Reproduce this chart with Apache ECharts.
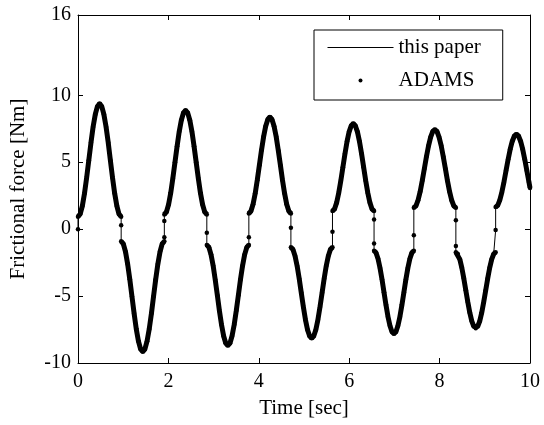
<!DOCTYPE html>
<html>
<head>
<meta charset="utf-8">
<script src="https://cdn.jsdelivr.net/npm/echarts@6/dist/echarts.min.js"></script>
<style>
html, body { margin: 0; background: #fff; }
#main { width: 544px; height: 425px; }
</style>
</head>
<body>
<div id="main"></div>
<script>
// readings, one line per half cycle (a jump repeats the time)
var time = [
    0,
    0, 0.048, 0.096, 0.143, 0.191, 0.239, 0.287, 0.334, 0.382, 0.430, 0.478, 0.525, 0.573, 0.621, 0.669, 0.716, 0.764, 0.812, 0.860, 0.907, 0.955,
    0.955,
    0.955, 1.003, 1.051, 1.098, 1.146, 1.194, 1.242, 1.289, 1.337, 1.385, 1.433, 1.480, 1.528, 1.576, 1.624, 1.671, 1.719, 1.767, 1.815, 1.862, 1.910,
    1.910, 1.910,
    1.910, 1.957, 2.004, 2.051, 2.098, 2.145, 2.192, 2.239, 2.286, 2.333, 2.380, 2.427, 2.474, 2.521, 2.568, 2.615, 2.662, 2.709, 2.756, 2.803, 2.850,
    2.850,
    2.850, 2.897, 2.943, 2.990, 3.036, 3.083, 3.129, 3.176, 3.222, 3.269, 3.315, 3.362, 3.408, 3.455, 3.501, 3.548, 3.594, 3.641, 3.687, 3.734, 3.780,
    3.780,
    3.780, 3.827, 3.873, 3.920, 3.966, 4.013, 4.059, 4.106, 4.152, 4.199, 4.245, 4.292, 4.338, 4.385, 4.431, 4.478, 4.524, 4.571, 4.617, 4.664, 4.710,
    4.710,
    4.710, 4.756, 4.802, 4.848, 4.894, 4.940, 4.986, 5.032, 5.078, 5.124, 5.170, 5.216, 5.262, 5.308, 5.354, 5.400, 5.446, 5.492, 5.538, 5.584, 5.630,
    5.630,
    5.630, 5.676, 5.722, 5.768, 5.814, 5.860, 5.906, 5.952, 5.998, 6.044, 6.090, 6.136, 6.182, 6.228, 6.274, 6.320, 6.366, 6.412, 6.458, 6.504, 6.550,
    6.550, 6.550,
    6.550, 6.594, 6.638, 6.682, 6.726, 6.770, 6.814, 6.858, 6.902, 6.946, 6.990, 7.034, 7.078, 7.122, 7.166, 7.210, 7.254, 7.298, 7.342, 7.386, 7.430,
    7.430,
    7.430, 7.477, 7.523, 7.570, 7.616, 7.663, 7.709, 7.756, 7.802, 7.849, 7.895, 7.942, 7.988, 8.035, 8.081, 8.128, 8.174, 8.221, 8.267, 8.314, 8.360,
    8.360, 8.360,
    8.360, 8.404, 8.448, 8.492, 8.536, 8.580, 8.624, 8.668, 8.712, 8.756, 8.800, 8.844, 8.888, 8.932, 8.976, 9.020, 9.064, 9.108, 9.152, 9.196, 9.240,
    9.240,
    9.240, 9.286, 9.332, 9.378, 9.424, 9.470, 9.516, 9.562, 9.608, 9.654, 9.700, 9.746, 9.792, 9.838, 9.884, 9.930, 9.976, 10.000
];
var force = [
    0,
    0.92, 1.13, 1.73, 2.66, 3.84, 5.15, 6.46, 7.64, 8.57, 9.17, 9.38, 9.17, 8.57, 7.64, 6.46, 5.15, 3.84, 2.66, 1.73, 1.13, 0.92,
    0.30,
    -0.90, -1.10, -1.69, -2.60, -3.75, -5.03, -6.31, -7.46, -8.37, -8.96, -9.16, -8.96, -8.37, -7.46, -6.31, -5.03, -3.75, -2.60, -1.69, -1.10, -0.90,
    -0.60, 0.60,
    1.10, 1.29, 1.84, 2.70, 3.79, 4.99, 6.19, 7.28, 8.14, 8.69, 8.88, 8.69, 8.14, 7.28, 6.19, 4.99, 3.79, 2.70, 1.84, 1.29, 1.10,
    -0.27,
    -1.18, -1.36, -1.90, -2.73, -3.78, -4.94, -6.10, -7.15, -7.98, -8.52, -8.70, -8.52, -7.98, -7.15, -6.10, -4.94, -3.78, -2.73, -1.90, -1.36, -1.18,
    -0.60,
    1.17, 1.35, 1.86, 2.66, 3.66, 4.78, 5.89, 6.90, 7.69, 8.20, 8.38, 8.20, 7.69, 6.90, 5.89, 4.78, 3.66, 2.66, 1.86, 1.35, 1.17,
    0.10,
    -1.35, -1.52, -2.00, -2.75, -3.70, -4.76, -5.81, -6.76, -7.51, -7.99, -8.16, -7.99, -7.51, -6.76, -5.81, -4.76, -3.70, -2.75, -2.00, -1.52, -1.35,
    -0.20,
    1.35, 1.51, 1.98, 2.70, 3.61, 4.62, 5.63, 6.54, 7.27, 7.73, 7.89, 7.73, 7.27, 6.54, 5.63, 4.62, 3.61, 2.70, 1.98, 1.51, 1.35,
    0.72, -1.07,
    -1.62, -1.77, -2.21, -2.90, -3.76, -4.72, -5.67, -6.54, -7.22, -7.66, -7.81, -7.66, -7.22, -6.54, -5.67, -4.72, -3.76, -2.90, -2.21, -1.77, -1.62,
    -0.45,
    1.60, 1.74, 2.16, 2.80, 3.62, 4.52, 5.42, 6.24, 6.88, 7.30, 7.44, 7.30, 6.88, 6.24, 5.42, 4.52, 3.62, 2.80, 2.16, 1.74, 1.60,
    0.67, -1.25,
    -1.72, -1.86, -2.26, -2.89, -3.69, -4.57, -5.44, -6.24, -6.87, -7.27, -7.41, -7.27, -6.87, -6.24, -5.44, -4.57, -3.69, -2.89, -2.26, -1.86, -1.72,
    -0.07,
    1.65, 1.78, 2.17, 2.77, 3.53, 4.37, 5.21, 5.97, 6.57, 6.96, 7.09, 6.96, 6.57, 5.97, 5.21, 4.37, 3.53, 3.08
];
var xTicks = [0, 2, 4, 6, 8, 10];
var yTicks = [-10, -5, 0, 5, 10, 16];
var names = ['this paper', 'ADAMS'];

var paperData = time.map(function (t, i) { return [t, force[i]]; });
// the ADAMS markers do not join across a jump
var adamsData = [];
for (var i = 0; i < time.length; i++) {
    if (i > 0 && time[i] === time[i - 1]) adamsData.push([time[i], '-']);
    adamsData.push([time[i], force[i]]);
}

var font = 'Liberation Serif';
var lineAx = {show: true, onZero: false, lineStyle: {color: '#000', width: 1}};
function ticks() {
    return {show: true, inside: true, length: 5, lineStyle: {color: '#000'}};
}

var myChart = echarts.init(document.getElementById('main'));
var option = {
    animation: false,
    grid: {left: 78, right: 14, top: 15, bottom: 62},
    legend: {
        orient: 'vertical',
        left: 314, top: 30,
        itemWidth: 66, itemHeight: 4, itemGap: 12,
        padding: [7, 22, 9, 13],
        borderColor: '#000', borderWidth: 1,
        backgroundColor: '#fff',
        textStyle: {fontFamily: font, fontSize: 21, color: '#000'},
        data: [
            {name: names[0], itemStyle: {opacity: 0}, lineStyle: {width: 1, color: '#000'}},
            {name: names[1], icon: 'circle'}
        ]
    },
    xAxis: [{
        type: 'value', min: 0, max: 10, interval: 2,
        name: 'Time [sec]', nameLocation: 'middle', nameGap: 35,
        nameTextStyle: {fontFamily: font, fontSize: 21, color: '#000'},
        axisLine: lineAx, axisTick: ticks(), splitLine: {show: false},
        axisLabel: {fontFamily: font, fontSize: 20, color: '#000', margin: 9}
    }, {
        type: 'value', position: 'top', min: 0, max: 10, interval: 2,
        axisLine: lineAx, axisTick: ticks(), splitLine: {show: false},
        axisLabel: {show: false}
    }],
    yAxis: [{
        type: 'value', min: -10, max: 16,
        name: 'Frictional force [Nm]', nameLocation: 'middle', nameGap: 49,
        nameTextStyle: {fontFamily: font, fontSize: 21, color: '#000'},
        axisLine: lineAx, splitLine: {show: false},
        axisTick: Object.assign(ticks(), {customValues: yTicks}),
        axisLabel: {fontFamily: font, fontSize: 20, color: '#000', margin: 7, customValues: yTicks}
    }, {
        type: 'value', position: 'right', min: -10, max: 16,
        axisLine: lineAx, splitLine: {show: false},
        axisTick: Object.assign(ticks(), {customValues: yTicks}),
        axisLabel: {show: false}
    }],
    series: [{
        name: names[1],
        type: 'line',
        data: adamsData,
        showSymbol: true,
        showAllSymbol: true,
        symbol: 'circle',
        symbolSize: 4.5,
        itemStyle: {color: '#000'},
        lineStyle: {color: '#000', width: 5},
        z: 2
    }, {
        name: names[0],
        type: 'line',
        data: paperData,
        symbol: 'none',
        itemStyle: {color: '#000'},
        lineStyle: {color: '#000', width: 1},
        z: 3
    }]
};
myChart.setOption(option);
</script>
</body>
</html>
